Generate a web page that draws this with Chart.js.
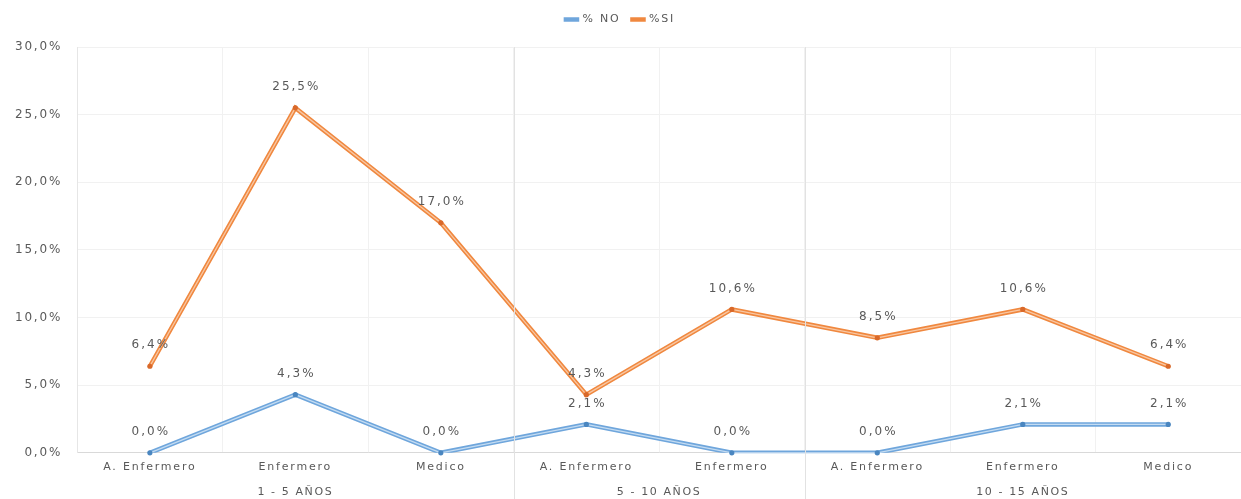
<!DOCTYPE html>
<html>
<head>
<meta charset="utf-8">
<script src="https://cdn.jsdelivr.net/npm/chart.js@4/dist/chart.umd.min.js"></script>
<style>
  html, body { margin: 0; padding: 0; background: #fff; }
  #wrap { width: 1241px; height: 499px; }
</style>
</head>
<body>
<div id="wrap"><canvas id="chart"></canvas></div>
<script>
// categories and groups along the x axis
const roles = ['A. Enfermero', 'Enfermero', 'Medico', 'A. Enfermero', 'Enfermero', 'A. Enfermero', 'Enfermero', 'Medico'];
const groups = ['1 - 5 AÑOS', '5 - 10 AÑOS', '10 - 15 AÑOS'];
const groupSizes = [3, 2, 3];

// series values, in percent
const pctNo = [0.0, 4.3, 0.0, 2.1, 0.0, 0.0, 2.1, 2.1];
const pctSi = [6.4, 25.5, 17.0, 4.3, 10.6, 8.5, 10.6, 6.4];

const yTicks = [0, 5, 10, 15, 20, 25, 30];

const FONT = "'DejaVu Sans', 'Open Sans', sans-serif";
const SPACING = '1.8px';
const fmt = v => v.toFixed(1).replace('.', ',') + '%';

// wide letter spacing for all text, set before layout and drawing
const spacing = {
  id: 'spacing',
  beforeUpdate(chart) { chart.ctx.letterSpacing = SPACING; },
  beforeDraw(chart) { chart.ctx.letterSpacing = SPACING; }
};

// leave some room under the legend
const legendGap = {
  id: 'legendGap',
  beforeInit(chart) {
    const fit = chart.legend.fit;
    chart.legend.fit = function () {
      fit.bind(chart.legend)();
      this.height += 12;
    };
  }
};

// inner highlight of the lines, value labels, group labels and separators
const decorPlugin = {
  id: 'decor',
  afterDatasetsDraw(chart) {
    const ctx = chart.ctx;
    const lights = ['#c4dcf2', '#f8c7a3'];
    const darks = ['#4a86c0', '#d9692a'];
    chart.data.datasets.forEach((ds, i) => {
      const pts = chart.getDatasetMeta(i).data;
      ctx.save();
      ctx.strokeStyle = lights[i];
      ctx.lineWidth = 1.3;
      ctx.lineJoin = 'round';
      ctx.beginPath();
      pts.forEach((p, k) => k ? ctx.lineTo(p.x, p.y) : ctx.moveTo(p.x, p.y));
      ctx.stroke();
      ctx.fillStyle = darks[i];
      pts.forEach(p => { ctx.beginPath(); ctx.arc(p.x, p.y, 2.6, 0, Math.PI * 2); ctx.fill(); });
      // value labels
      ctx.fillStyle = '#595959';
      ctx.font = '12px ' + FONT;
      ctx.letterSpacing = '2px';
      ctx.textAlign = 'center';
      ctx.textBaseline = 'middle';
      pts.forEach((p, k) => ctx.fillText(fmt(ds.data[k]), p.x + 1, p.y - 21));
      ctx.restore();
    });
  },
  afterDraw(chart) {
    const ctx = chart.ctx;
    const x = chart.scales.x;
    const area = chart.chartArea;
    const half = (x.getPixelForValue(1) - x.getPixelForValue(0)) / 2;
    ctx.save();
    ctx.strokeStyle = '#e2e2e2';
    ctx.lineWidth = 1;
    ctx.fillStyle = '#595959';
    ctx.font = '11px ' + FONT;
    ctx.letterSpacing = '1.6px';
    ctx.textAlign = 'center';
    ctx.textBaseline = 'middle';
    let start = 0;
    groups.forEach((g, gi) => {
      const end = start + groupSizes[gi] - 1;
      const left = x.getPixelForValue(start) - half;
      const right = x.getPixelForValue(end) + half;
      ctx.fillText(g, (left + right) / 2, area.bottom + 39);
      if (gi < groups.length - 1) {
        ctx.beginPath();
        ctx.moveTo(Math.round(right) + 0.5, area.top);
        ctx.lineTo(Math.round(right) + 0.5, chart.height);
        ctx.stroke();
      }
      start = end + 1;
    });
    ctx.restore();
  }
};

new Chart(document.getElementById('chart'), {
  type: 'line',
  data: {
    labels: roles,
    datasets: [
      {
        label: '% NO',
        data: pctNo,
        borderColor: '#6fa6dc',
        backgroundColor: '#6fa6dc',
        borderWidth: 4.5,
        pointRadius: 0,
        tension: 0
      },
      {
        label: '%SI',
        data: pctSi,
        borderColor: '#f0883f',
        backgroundColor: '#f0883f',
        borderWidth: 4.5,
        pointRadius: 0,
        tension: 0
      }
    ]
  },
  options: {
    responsive: true,
    maintainAspectRatio: false,
    animation: false,
    layout: { padding: { left: 0, right: 0, top: 2, bottom: 17 } },
    plugins: {
      legend: {
        position: 'top',
        labels: {
          usePointStyle: true,
          pointStyle: 'line',
          boxWidth: 38,
          padding: 12,
          color: '#595959',
          font: { family: FONT, size: 11 }
        }
      },
      tooltip: { enabled: false }
    },
    scales: {
      x: {
        offset: true,
        grid: { offset: true, color: '#f1f1f1', drawTicks: false },
        border: { color: '#d9d9d9' },
        ticks: { color: '#595959', padding: 8, maxRotation: 0, autoSkip: false, font: { family: FONT, size: 11 } }
      },
      y: {
        min: 0,
        max: 30,
        afterBuildTicks: axis => { axis.ticks = yTicks.map(v => ({ value: v })); },
        grid: { color: '#f1f1f1', drawTicks: false },
        border: { color: '#e6e6e6' },
        ticks: { color: '#595959', padding: 15, callback: v => fmt(v), font: { family: FONT, size: 12 } }
      }
    }
  },
  plugins: [spacing, legendGap, decorPlugin]
});
</script>
</body>
</html>
